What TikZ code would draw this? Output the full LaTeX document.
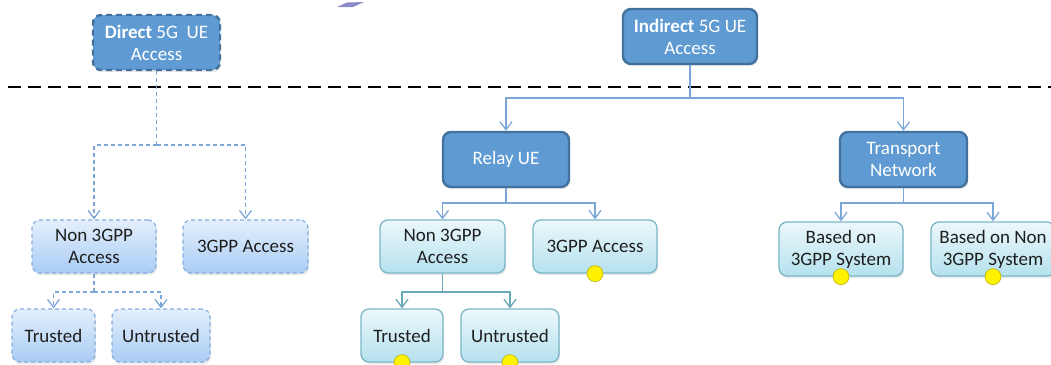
\documentclass[tikz,border=0pt]{standalone}
\usepackage{fontspec}
\setmainfont{Carlito}
\usetikzlibrary{arrows.meta,shadows}
\definecolor{dkfill}{HTML}{5F9BD2}
\definecolor{dkdraw}{HTML}{41719C}
\definecolor{lbdraw}{HTML}{84AEE0}
\definecolor{lbtop}{HTML}{E4EFFC}
\definecolor{lbbot}{HTML}{A9CCF4}
\definecolor{tldraw}{HTML}{7BB6C7}
\definecolor{tltop}{HTML}{EDF8FB}
\definecolor{tlbot}{HTML}{B4E1EE}
\definecolor{conblue}{HTML}{7BA7D8}
\definecolor{conteal}{HTML}{6AA9B9}
\definecolor{txt}{HTML}{1E1E1E}
\definecolor{sliver}{HTML}{8A8AC8}
\definecolor{dotdraw}{HTML}{B8B000}
\begin{document}
\begin{tikzpicture}[x=1pt,y=-1pt,
  font=\fontsize{19}{22}\selectfont,
  box/.style={rounded corners=8pt, align=center, inner sep=0pt,
    drop shadow={opacity=0.18, shadow xshift=1.2pt, shadow yshift=-2.2pt}},
  dkbox/.style={box, fill=dkfill, draw=dkdraw, line width=2.4pt, text=white},
  lbbox/.style={box, draw=lbdraw, dash pattern=on 4pt off 3pt, line width=1.2pt,
    top color=lbtop, bottom color=lbbot, text=txt},
  tlbox/.style={box, draw=tldraw, line width=1.3pt, top color=tltop, bottom color=tlbot, text=txt},
  conn/.style={draw=conblue, line width=1.3pt},
  tconn/.style={draw=conteal, line width=1.3pt},
  tip/.style={-{Straight Barb[length=8pt,width=12pt,line width=1.3pt]}},
  dconn/.style={conn, dash pattern=on 4pt off 3pt},
  ydot/.style={circle, fill=yellow, draw=dotdraw, line width=0.6pt, minimum size=16pt, inner sep=0pt},
]
\useasboundingbox (0,0) rectangle (1051,364);
\clip (0,0) rectangle (1051,364);

% small sliver at top
\fill[sliver] (337,7) -- (347,2.5) -- (364,2) -- (353,7) -- cycle;

% separator
\draw[black, line width=2.6pt, dash pattern=on 13pt off 7pt] (8,87) -- (1051,87);

% top level
\node[dkbox, dash pattern=on 6pt off 4pt, minimum width=127pt, minimum height=55pt] (direct) at (156.5,42.5) {\textbf{Direct} 5G\ \ UE\\Access};
\node[dkbox, minimum width=134pt, minimum height=55pt] (indirect) at (690,36.5) {\textbf{Indirect} 5G UE\\Access};

% direct branch
\node[lbbox, minimum width=124pt, minimum height=53pt] (n3l) at (94,246.5) {Non 3GPP\\Access};
\node[lbbox, minimum width=125pt, minimum height=53pt] (g3l) at (245.5,246.5) {3GPP Access};
\node[lbbox, minimum width=83pt, minimum height=53pt] (trl) at (53.5,335.5) {Trusted};
\node[lbbox, minimum width=98pt, minimum height=53pt] (unl) at (161,335.5) {Untrusted};

% indirect branch
\node[dkbox, minimum width=126pt, minimum height=55pt] (relay) at (506,159.5) {Relay UE};
\node[dkbox, minimum width=127pt, minimum height=55pt] (transport) at (903.5,159.5) {Transport\\Network};
\node[tlbox, minimum width=125pt, minimum height=53pt] (n3r) at (442.5,246.5) {Non 3GPP\\Access};
\node[tlbox, minimum width=124pt, minimum height=53pt] (g3r) at (595,246.5) {3GPP Access};
\node[tlbox, minimum width=82pt, minimum height=53pt] (trr) at (402,335.5) {Trusted};
\node[tlbox, minimum width=98pt, minimum height=53pt] (unr) at (510,335.5) {Untrusted};
\node[tlbox, minimum width=124pt, minimum height=54pt] (b3) at (841,249) {Based on\\3GPP System};
\node[tlbox, minimum width=124pt, minimum height=54pt] (bn3) at (993,249) {Based on Non\\3GPP System};

% junctions
\coordinate (jd) at (156.5,145);
\coordinate (jn3l) at (94,292);
\coordinate (ji) at (690,98);
\coordinate (jr) at (506,203);
\coordinate (jn3r) at (442.5,292);
\coordinate (jt) at (903.5,203);

% connectors
\draw[dconn] (direct.south) -- (jd);
\draw[dconn,tip] (jd) -| (n3l.north);
\draw[dconn,tip] (jd) -| (g3l.north);
\draw[dconn] (n3l.south) -- (jn3l);
\draw[dconn,tip] (jn3l) -| (trl.north);
\draw[dconn,tip] (jn3l) -| (unl.north);

\draw[conn] (indirect.south) -- (ji);
\draw[conn,tip] (ji) -| (relay.north);
\draw[conn,tip] (ji) -| (transport.north);
\draw[conn] (relay.south) -- (jr);
\draw[conn,tip] (jr) -| (n3r.north);
\draw[conn,tip] (jr) -| (g3r.north);
\draw[tconn] (n3r.south) -- (jn3r);
\draw[tconn,tip] (jn3r) -| (trr.north);
\draw[tconn,tip] (jn3r) -| (unr.north);
\draw[conn] (transport.south) -- (jt);
\draw[conn,tip] (jt) -| (b3.north);
\draw[conn,tip] (jt) -| (bn3.north);

% yellow dots
\node[ydot] (dg3r) at (g3r.south) {};
\node[ydot] (dtrr) at (trr.south) {};
\node[ydot] (dunr) at (unr.south) {};
\node[ydot] (db3) at (b3.south) {};
\node[ydot] (dbn3) at (bn3.south) {};
\end{tikzpicture}
\end{document}
